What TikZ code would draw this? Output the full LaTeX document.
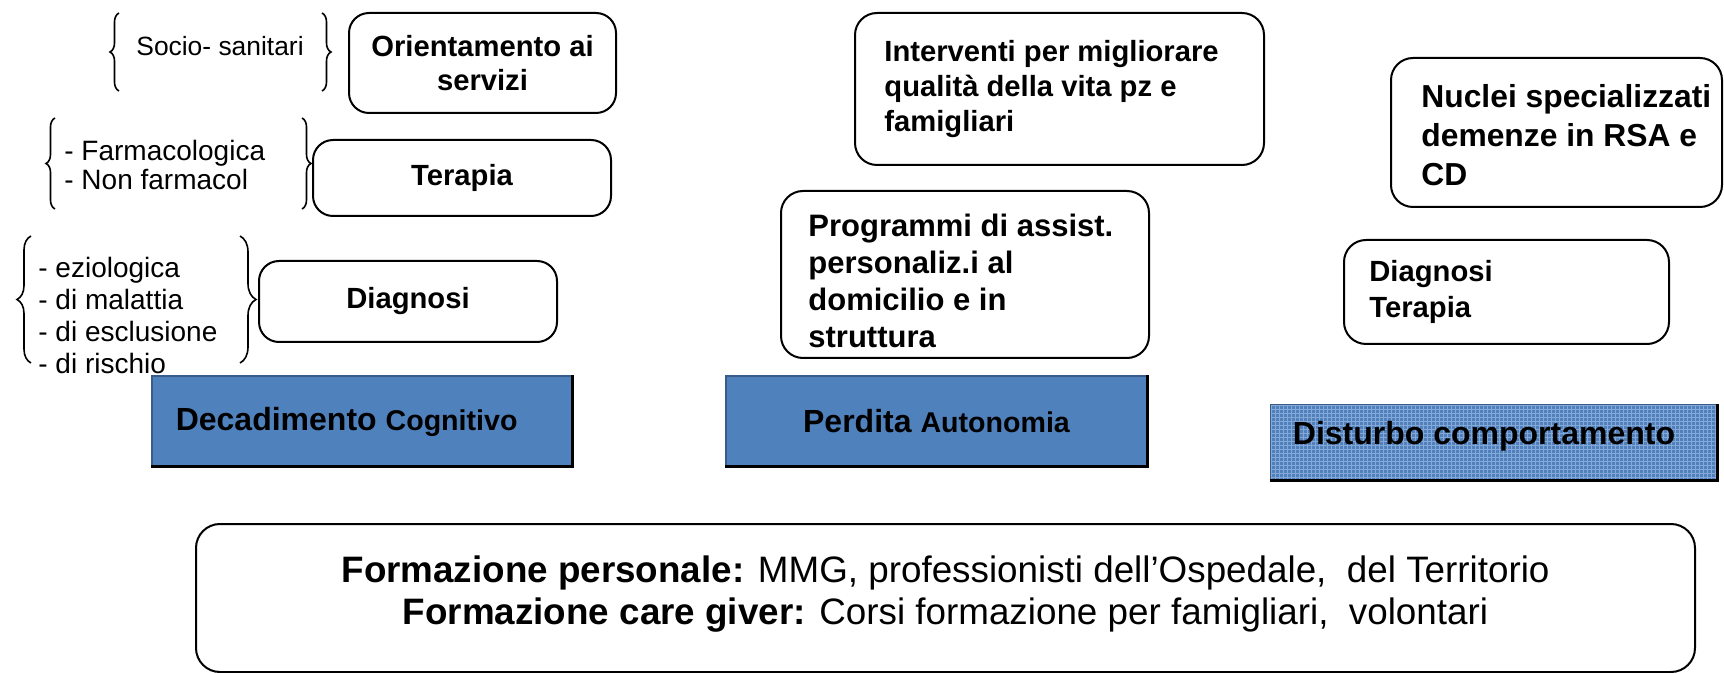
\documentclass[tikz,border=0pt]{standalone}
\usepackage{fontspec}
\setmainfont{Liberation Sans}
\usetikzlibrary{decorations.pathreplacing}
\definecolor{ppblue}{HTML}{4F81BD}
\definecolor{ppedge}{HTML}{385D8A}
\definecolor{ppgrid}{HTML}{86A8D6}
\begin{document}
\begin{tikzpicture}[x=0.5pt,y=-0.5pt,
  rbox/.style={draw, line width=1pt, rounded corners=10pt, inner sep=0pt, align=center,
    font=\bfseries\fontsize{14.6}{17}\selectfont},
  tbox/.style={draw, line width=1pt, rounded corners=11pt, inner sep=0pt},
  tlabel/.style={anchor=west, inner sep=0pt, align=left, font=\bfseries},
  bluebox/.style={fill=ppblue, draw=ppedge, line width=0.6pt, inner sep=0pt},
  bracedeco/.style={decorate, decoration={brace, amplitude=#1}, line width=0.8pt},
  small/.style={anchor=west, inner sep=0pt, align=left, font=\fontsize{14}{14.3}\selectfont}
]
\useasboundingbox (0,0) rectangle (1724,673);

% left column boxes
\node[rbox, minimum width=133.5pt, minimum height=50pt] (orient) at (482.5,63) {Orientamento ai\\servizi};
\node[rbox, minimum width=149pt, minimum height=38pt] (terapia) at (462,178) {Terapia};
\node[rbox, minimum width=149pt, minimum height=40.5pt] (diagnosi) at (408,301.5) {Diagnosi};

% bracketed lists
\node[small, font=\fontsize{13.2}{15}\selectfont] (socio) at (136,46) {Socio- sanitari};
\node[small] (farm) at (64,165) {- Farmacologica\\- Non farmacol};
\node[small, font=\fontsize{14}{16}\selectfont] (dlist) at (38,315) {- eziologica\\- di malattia\\- di esclusione\\- di rischio};

\coordinate (sl1) at (119,91); \coordinate (sl2) at (119,13);
\coordinate (sr1) at (322,13); \coordinate (sr2) at (322,91);
\coordinate (fl1) at (55,209); \coordinate (fl2) at (55,118);
\coordinate (fr1) at (302,118); \coordinate (fr2) at (302,209);
\coordinate (dl1) at (31,363); \coordinate (dl2) at (31,236);
\coordinate (dr1) at (240,236); \coordinate (dr2) at (240,363);
\draw[bracedeco=4.5pt] (sl1) -- (sl2);
\draw[bracedeco=4.5pt] (sr1) -- (sr2);
\draw[bracedeco=4.5pt] (fl1) -- (fl2);
\draw[bracedeco=4.5pt] (fr1) -- (fr2);
\draw[bracedeco=7pt] (dl1) -- (dl2);
\draw[bracedeco=8pt] (dr1) -- (dr2);

% middle column
\node[tbox, minimum width=204.5pt, minimum height=76pt] (interv) at (1059.5,89) {};
\node[tlabel, font=\bfseries\fontsize{14.6}{17.5}\selectfont] (interv-t) at ([xshift=15pt]interv.west)
  {Interventi per migliorare\\qualità della vita pz e\\famigliari};
\node[tbox, minimum width=184pt, minimum height=83.5pt] (progr) at (965,274.5) {};
\node[tlabel, font=\bfseries\fontsize{15.5}{18.5}\selectfont] (progr-t) at ([xshift=14pt,yshift=-3pt]progr.west)
  {Programmi di assist.\\personaliz.i al\\domicilio e in\\struttura};

% right column
\node[tbox, minimum width=165.5pt, minimum height=74.5pt] (nuclei) at (1556.5,132.5) {};
\node[tlabel, font=\bfseries\fontsize{15.9}{19.5}\selectfont] (nuclei-t) at ([xshift=15.5pt,yshift=-1.5pt]nuclei.west)
  {Nuclei specializzati\\demenze in RSA e\\CD};
\node[tbox, minimum width=162.5pt, minimum height=52pt] (dt) at (1506.5,292) {};
\node[tlabel, font=\bfseries\fontsize{14.6}{18}\selectfont] (dt-t) at ([xshift=13pt]dt.west)
  {Diagnosi\\Terapia};

% blue boxes
\node[bluebox, minimum width=210pt, minimum height=45pt] (decad) at (362,421) {};
\draw[line width=1.2pt] (decad.north east) -- (decad.south east) -- (decad.south west);
\node[anchor=west, inner sep=0pt, font=\bfseries] (decad-t) at ([xshift=12pt,yshift=-0.5pt]decad.west)
  {\fontsize{16}{18}\selectfont Decadimento \fontsize{14.3}{18}\selectfont Cognitivo};

\node[bluebox, minimum width=210.5pt, minimum height=45pt] (perd) at (936.5,421) {};
\draw[line width=1.2pt] (perd.north east) -- (perd.south east) -- (perd.south west);
\node[inner sep=0pt, font=\bfseries] (perd-t) at ([yshift=0pt]perd.center)
  {\fontsize{16}{18}\selectfont Perdita \fontsize{14.3}{18}\selectfont Autonomia};

\node[bluebox, minimum width=223pt, minimum height=37.5pt] (dist) at (1494,442.5) {};
\begin{scope}
  \clip (dist.south west) rectangle (dist.north east);
  \foreach \i in {0,...,112} {\draw[ppgrid, line width=0.3pt] (1271+4*\i,400) -- (1271+4*\i,485);}
  \foreach \j in {0,...,20} {\draw[ppgrid, line width=0.3pt] (1265,405+4*\j) -- (1720,405+4*\j);}
\end{scope}
\draw[ppedge, line width=0.6pt] (dist.south west) rectangle (dist.north east);
\draw[line width=1.2pt] (dist.north east) -- (dist.south east) -- (dist.south west);
\node[inner sep=0pt, font=\bfseries\fontsize{16}{18}\selectfont] (dist-t) at (1484,436.5) {Disturbo comportamento};

% bottom box
\node[draw, line width=1pt, rounded corners=12pt, minimum width=749.5pt, minimum height=74pt, inner sep=0pt] (form) at (945.5,598) {};
\node[inner sep=0pt, align=center, font=\fontsize{18.4}{20.6}\selectfont] (form-t) at ([yshift=2pt]form.center)
  {\textbf{Formazione personale:} MMG, professionisti dell’Ospedale,\ \ del Territorio\\
   \textbf{Formazione care giver:} Corsi formazione per famigliari,\ \ volontari};
\end{tikzpicture}
\end{document}
